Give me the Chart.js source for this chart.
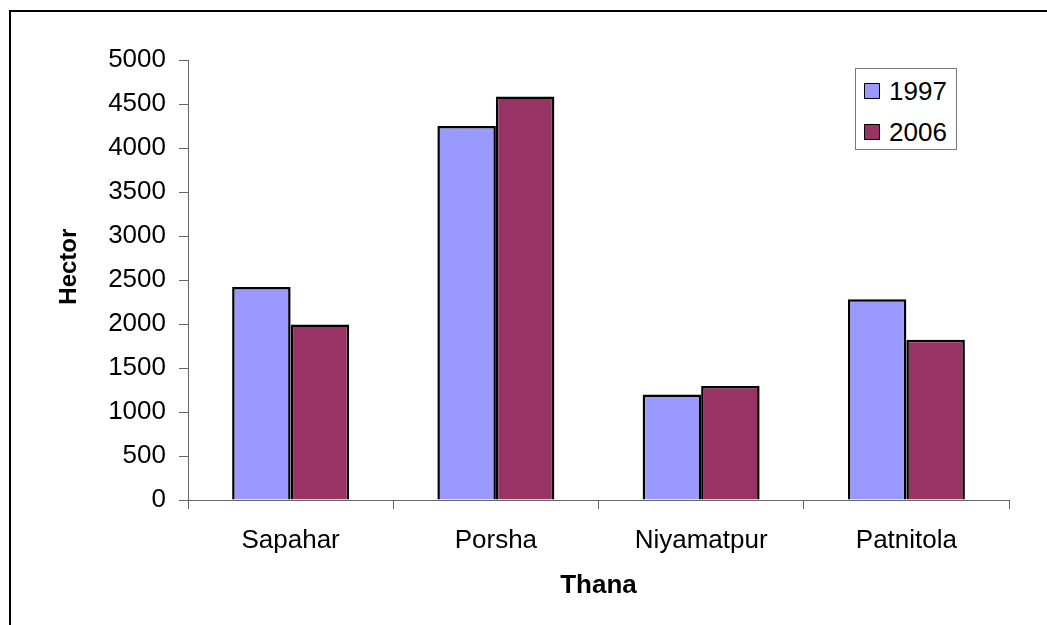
<!DOCTYPE html>
<html>
<head>
<meta charset="utf-8">
<script src="https://cdn.jsdelivr.net/npm/chart.js@4.4.1/dist/chart.umd.min.js"></script>
<style>
  html, body { margin: 0; padding: 0; background: #fff; }
  #wrap { position: relative; width: 1047px; height: 625px; overflow: hidden; }
  #frame { position: absolute; left: 9px; top: 10px; width: 1100px; height: 700px;
           border-top: 2px solid #000; border-left: 2px solid #000; }
  canvas { position: absolute; left: 0; top: 0; }
  #legend { position: absolute; left: 855px; top: 68px; width: 102px; height: 82px;
            border: 1px solid #777; box-sizing: border-box; background: #fff;
            font-family: "Liberation Sans", Arial, sans-serif; font-size: 26px; color: #000; }
  .item { position: absolute; left: 8px; height: 30px; display: flex; align-items: center; }
  .sw { width: 14px; height: 14px; border: 1px solid #000; margin-right: 9px; }
  .item span { line-height: 30px; }
</style>
</head>
<body>
<div id="wrap">
  <div id="frame"></div>
  <canvas id="chart" width="1047" height="625"></canvas>
  <div id="legend"></div>
</div>
<script>
const categories = ['Sapahar', 'Porsha', 'Niyamatpur', 'Patnitola'];
const seriesNames = ['1997', '2006'];
const values1997 = [2420, 4250, 1200, 2280];
const values2006 = [1995, 4585, 1295, 1820];
const colors = ['#9999FF', '#993366'];

const font = '"Liberation Sans", Arial, sans-serif';
const axisColor = '#666';

const datasets = [values1997, values2006].map((vals, i) => ({
    label: seriesNames[i],
    data: vals,
    backgroundColor: colors[i],
    borderColor: '#000',
    borderWidth: 2.5,
    categoryPercentage: 0.57,
    barPercentage: 1.0
}));

const ctx = document.getElementById('chart').getContext('2d');
new Chart(ctx, {
    type: 'bar',
    data: { labels: categories, datasets: datasets },
    options: {
        responsive: false,
        animation: false,
        layout: { padding: { left: 0, top: 60, right: 38, bottom: 0 } },
        plugins: {
            legend: { display: false },
            tooltip: { enabled: false }
        },
        scales: {
            x: {
                grid: { offset: true, drawOnChartArea: false, tickLength: 9, color: axisColor },
                border: { color: axisColor, width: 1 },
                ticks: { color: '#000', padding: 16, font: { family: font, size: 26 } },
                title: { display: true, text: 'Thana', color: '#000', padding: { bottom: 24 },
                         font: { family: font, size: 26, weight: 'bold' } },
                afterFit: scale => { scale.height = 125; }
            },
            y: {
                min: 0, max: 5000,
                grid: { drawOnChartArea: false, tickLength: 9, color: axisColor },
                border: { color: axisColor, width: 1 },
                ticks: { stepSize: 500, color: '#000', padding: 13, font: { family: font, size: 26 },
                         callback: v => String(v) },
                // leading spaces nudge the rotated title up to where the original sits
                title: { display: true, text: '    Hector', color: '#000', padding: { top: 55 },
                         font: { family: font, size: 24, weight: 'bold' } },
                afterFit: scale => { scale.width = 188; }
            }
        }
    }
});

const legend = document.getElementById('legend');
datasets.forEach((ds, i) => {
    const item = document.createElement('div');
    item.className = 'item';
    item.style.top = (7 + i * 41) + 'px';
    item.innerHTML = '<div class="sw" style="background:' + ds.backgroundColor + '"></div><span>' + ds.label + '</span>';
    legend.appendChild(item);
});
</script>
</body>
</html>
